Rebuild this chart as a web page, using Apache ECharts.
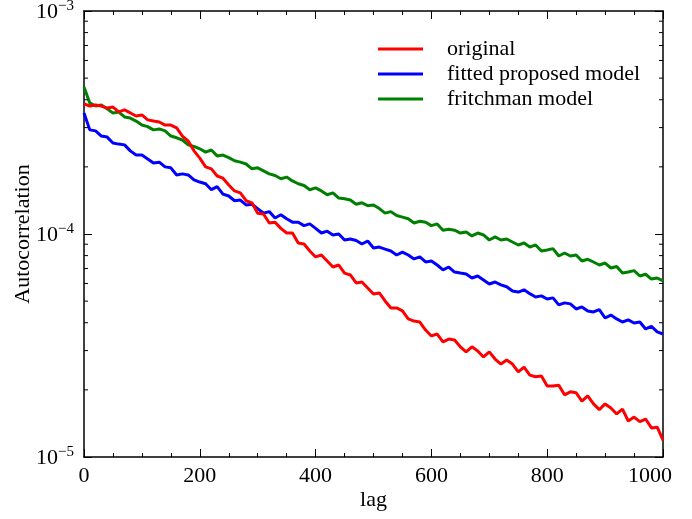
<!DOCTYPE html>
<html><head><meta charset="utf-8">
<script src="https://cdn.jsdelivr.net/npm/echarts@6/dist/echarts.min.js"></script>
<style>html,body{margin:0;padding:0;background:#fff}#c{width:692px;height:519px}</style>
</head><body><div id="c"></div>
<script>
const lags = [0,10,20,30,40,50,60,70,80,90,100,110,120,130,140,150,160,170,180,190,200,210,220,230,240,250,260,270,280,290,300,310,320,330,340,350,360,370,380,390,400,410,420,430,440,450,460,470,480,490,500,510,520,530,540,550,560,570,580,590,600,610,620,630,640,650,660,670,680,690,700,710,720,730,740,750,760,770,780,790,800,810,820,830,840,850,860,870,880,890,900,910,920,930,940,950,960,970,980,990,1000];

const original = [3.83e-4,3.75e-4,3.79e-4,3.75e-4,3.67e-4,3.71e-4,3.53e-4,3.60e-4,3.49e-4,3.38e-4,
3.42e-4,3.25e-4,3.21e-4,3.18e-4,3.08e-4,3.08e-4,2.99e-4,2.75e-4,2.61e-4,2.36e-4,
2.19e-4,2.00e-4,1.96e-4,1.82e-4,1.78e-4,1.66e-4,1.56e-4,1.53e-4,1.41e-4,1.38e-4,
1.24e-4,1.23e-4,1.12e-4,1.13e-4,1.06e-4,1.01e-4,1.01e-4,9.11e-5,9.02e-5,8.39e-5,
7.89e-5,8.05e-5,7.57e-5,7.11e-5,7.26e-5,6.68e-5,6.55e-5,6.03e-5,6.09e-5,5.73e-5,
5.38e-5,5.44e-5,5.01e-5,4.66e-5,4.66e-5,4.52e-5,4.16e-5,4.07e-5,4.03e-5,3.71e-5,
3.49e-5,3.56e-5,3.28e-5,3.38e-5,3.35e-5,3.12e-5,2.96e-5,3.12e-5,2.99e-5,2.81e-5,
2.96e-5,2.75e-5,2.61e-5,2.72e-5,2.61e-5,2.41e-5,2.53e-5,2.33e-5,2.29e-5,2.31e-5,
2.08e-5,2.08e-5,2.10e-5,1.90e-5,1.96e-5,1.94e-5,1.78e-5,1.88e-5,1.73e-5,1.63e-5,
1.73e-5,1.66e-5,1.56e-5,1.64e-5,1.45e-5,1.51e-5,1.44e-5,1.48e-5,1.35e-5,1.36e-5,
1.19e-5];

const fitted = [3.49e-4,2.93e-4,2.90e-4,2.75e-4,2.72e-4,2.56e-4,2.53e-4,2.51e-4,2.36e-4,2.26e-4,
2.26e-4,2.17e-4,2.08e-4,2.10e-4,2.00e-4,1.98e-4,1.84e-4,1.86e-4,1.84e-4,1.75e-4,
1.71e-4,1.68e-4,1.58e-4,1.63e-4,1.51e-4,1.48e-4,1.41e-4,1.42e-4,1.35e-4,1.36e-4,
1.30e-4,1.24e-4,1.26e-4,1.18e-4,1.22e-4,1.17e-4,1.13e-4,1.13e-4,1.09e-4,1.11e-4,
1.06e-4,1.01e-4,1.03e-4,9.90e-5,1.00e-4,9.40e-5,9.50e-5,9.35e-5,9.02e-5,9.30e-5,
8.65e-5,8.74e-5,8.55e-5,8.39e-5,8.05e-5,8.30e-5,8.05e-5,7.73e-5,7.89e-5,7.49e-5,
7.57e-5,7.26e-5,6.90e-5,7.11e-5,6.75e-5,6.68e-5,6.62e-5,6.35e-5,6.48e-5,6.22e-5,
5.97e-5,6.09e-5,5.91e-5,5.80e-5,5.55e-5,5.49e-5,5.62e-5,5.40e-5,5.22e-5,5.28e-5,
5.11e-5,5.17e-5,4.81e-5,4.91e-5,4.86e-5,4.61e-5,4.71e-5,4.52e-5,4.47e-5,4.58e-5,
4.20e-5,4.33e-5,4.16e-5,4.03e-5,4.12e-5,3.99e-5,4.03e-5,3.75e-5,3.85e-5,3.64e-5,
3.56e-5];

const fritchman = [4.56e-4,3.87e-4,3.75e-4,3.79e-4,3.64e-4,3.49e-4,3.52e-4,3.35e-4,3.31e-4,3.21e-4,
3.08e-4,3.03e-4,2.93e-4,2.96e-4,2.90e-4,2.75e-4,2.70e-4,2.64e-4,2.51e-4,2.47e-4,
2.41e-4,2.33e-4,2.38e-4,2.24e-4,2.26e-4,2.20e-4,2.13e-4,2.10e-4,2.06e-4,1.96e-4,
1.98e-4,1.92e-4,1.86e-4,1.83e-4,1.77e-4,1.80e-4,1.73e-4,1.68e-4,1.65e-4,1.58e-4,
1.61e-4,1.56e-4,1.50e-4,1.53e-4,1.45e-4,1.44e-4,1.42e-4,1.36e-4,1.38e-4,1.34e-4,
1.35e-4,1.30e-4,1.24e-4,1.26e-4,1.21e-4,1.19e-4,1.17e-4,1.12e-4,1.14e-4,1.13e-4,
1.09e-4,1.11e-4,1.04e-4,1.05e-4,1.04e-4,1.01e-4,1.02e-4,9.80e-5,1.01e-4,9.90e-5,
9.40e-5,9.70e-5,9.40e-5,9.50e-5,9.21e-5,8.93e-5,9.11e-5,8.74e-5,8.93e-5,8.39e-5,
8.48e-5,8.60e-5,7.97e-5,8.22e-5,7.97e-5,8.05e-5,7.57e-5,7.70e-5,7.49e-5,7.26e-5,
7.41e-5,7.04e-5,7.15e-5,6.68e-5,6.75e-5,6.85e-5,6.48e-5,6.60e-5,6.28e-5,6.35e-5,
6.16e-5];

const seriesNames = ['original', 'fitted proposed model', 'fritchman model'];
const seriesColors = ['#ff0000', '#0000ff', '#008000'];
const yMinorTicks = [2e-5,3e-5,4e-5,5e-5,6e-5,7e-5,8e-5,9e-5,2e-4,3e-4,4e-4,5e-4,6e-4,7e-4,8e-4,9e-4];

const FONT = '"Liberation Serif", "Times New Roman", serif';
const FS = 22;
const chart = echarts.init(document.getElementById('c'), null, {renderer: 'canvas'});

const axisLineStyle = {show: true, onZero: false, lineStyle: {color: '#000', width: 1.5}};
const tickStyle = {color: '#000', width: 1};

function mk(name, vals, color, z) {
  return {
    type: 'line', name: name, z: z,
    data: lags.map((l, i) => [l, vals[i]]),
    showSymbol: false, symbol: 'none', sampling: null,
    lineStyle: {width: 3, color: color}, itemStyle: {color: color},
    emphasis: {disabled: true}
  };
}

const option = {
  animation: false,
  backgroundColor: '#fff',
  grid: {left: 84, right: 29, top: 11, bottom: 62, containLabel: false, outerBoundsMode: 'none'},
  legend: {
    data: seriesNames, orient: 'vertical', left: 373, top: 33,
    itemWidth: 45, itemHeight: 3, icon: 'rect', itemGap: 3,
    textStyle: {fontFamily: FONT, fontSize: FS, color: '#000', lineHeight: 22, padding: [0, 0, 0, 19]}
  },
  xAxis: [{
    type: 'value', min: 0, max: 1000, interval: 200, position: 'bottom',
    axisLine: axisLineStyle,
    axisTick: {inside: true, length: 8, lineStyle: tickStyle},
    minorTick: {show: true, splitNumber: 4, length: 4, lineStyle: tickStyle},
    splitLine: {show: false},
    axisLabel: {
      color: '#000', fontFamily: FONT, fontSize: FS, margin: 8,
      formatter: v => v === 1000 ? '{r|1000}' : String(v),
      rich: {r: {color: '#000', fontFamily: FONT, fontSize: FS, padding: [0, 26, 0, 0]}}
    },
    name: 'lag', nameLocation: 'middle', nameGap: 32, nameMoveOverlap: false,
    nameTextStyle: {fontFamily: FONT, fontSize: FS, color: '#000'}
  }, {
    type: 'value', min: 0, max: 1000, interval: 200, position: 'top',
    axisLine: axisLineStyle,
    axisTick: {inside: true, length: 8, lineStyle: tickStyle},
    minorTick: {show: true, splitNumber: 4, length: 4, lineStyle: tickStyle},
    splitLine: {show: false}, axisLabel: {show: false}
  }],
  yAxis: [{
    type: 'log', logBase: 10, min: 1e-5, max: 1e-3, position: 'left',
    axisLine: axisLineStyle,
    axisTick: {inside: true, length: 8, lineStyle: tickStyle},
    splitLine: {show: false},
    axisLabel: {
      margin: 10,
      formatter: v => '{b|10}{s|\u2212' + Math.abs(Math.round(Math.log10(v))) + '}',
      rich: {
        b: {fontFamily: FONT, fontSize: FS, color: '#000', verticalAlign: 'bottom', lineHeight: 22},
        s: {fontFamily: FONT, fontSize: 15, color: '#000', verticalAlign: 'bottom', padding: [0, 0, 10, 0]}
      }
    },
    name: 'Autocorrelation', nameLocation: 'middle', nameGap: 50, nameMoveOverlap: false,
    nameTextStyle: {fontFamily: FONT, fontSize: FS, color: '#000'}
  }, {
    type: 'log', logBase: 10, min: 1e-5, max: 1e-3, position: 'right',
    axisLine: axisLineStyle,
    axisTick: {inside: true, length: 8, lineStyle: tickStyle},
    splitLine: {show: false}, axisLabel: {show: false}
  }],
  series: [
    mk(seriesNames[1], fitted, seriesColors[1], 2),
    mk(seriesNames[2], fritchman, seriesColors[2], 3),
    mk(seriesNames[0], original, seriesColors[0], 4),
    {
      type: 'custom', name: 'yMinor', xAxisIndex: 0, yAxisIndex: 0, silent: true, z: 5,
      data: yMinorTicks.map(v => [0, v]),
      renderItem: (params, api) => {
        const p = api.coord([0, api.value(1)]);
        const cs = params.coordSys;
        return {
          type: 'group', children: [
            {type: 'line', shape: {x1: cs.x, y1: p[1], x2: cs.x + 4, y2: p[1]}, style: {stroke: '#000', lineWidth: 1}},
            {type: 'line', shape: {x1: cs.x + cs.width, y1: p[1], x2: cs.x + cs.width - 4, y2: p[1]}, style: {stroke: '#000', lineWidth: 1}}
          ]
        };
      }
    }
  ]
};
chart.setOption(option);
</script>
</body></html>
